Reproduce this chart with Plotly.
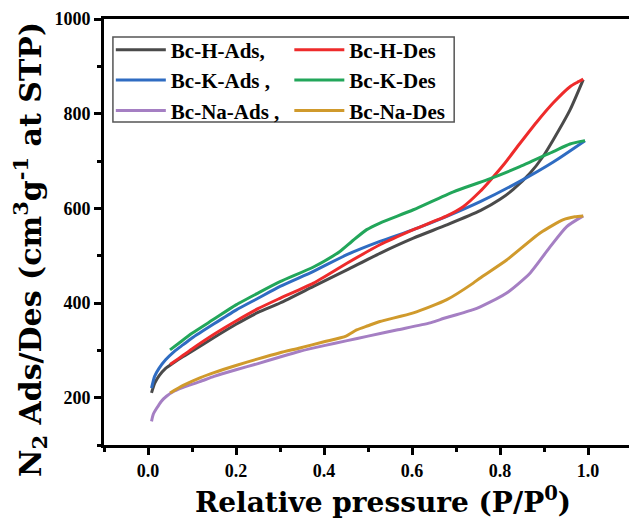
import plotly.graph_objects as go

# ---- data ----
h_ads_x = [0.008,0.015,0.025,0.04,0.06,0.08,0.1,0.15,0.2,0.25,0.3,0.376,0.452,0.527,0.603,0.679,0.755,0.8,0.83,0.868,0.898,0.921,0.959,0.989]
h_ads_y = [210,230,246,262,275,287,298,327,355,380,400,435,470,505,537,565,595,619,640,674,710,745,808,872]

h_des_x = [0.989,0.975,0.959,0.921,0.883,0.845,0.808,0.77,0.755,0.717,0.679,0.603,0.527,0.452,0.376,0.3,0.25,0.2,0.15,0.1,0.07,0.05]
h_des_y = [873,866,857,823,782,737,692,651,636,604,584,555,523,484,442,410,388,362,334,303,283,270]

k_ads_x = [0.008,0.015,0.025,0.04,0.06,0.08,0.1,0.15,0.2,0.25,0.3,0.376,0.452,0.527,0.603,0.679,0.755,0.845,0.921,0.993]
k_ads_y = [220,245,262,280,298,312,326,356,385,410,435,467,502,530,555,583,614,657,698,743]

k_des_x = [0.993,0.959,0.921,0.845,0.77,0.694,0.603,0.527,0.497,0.463,0.436,0.376,0.3,0.25,0.2,0.15,0.1,0.07,0.05]
k_des_y = [743,736,720,688,660,635,597,569,555,530,509,476,445,421,396,366,336,315,301]

na_ads_x = [0.008,0.012,0.02,0.03,0.042,0.06,0.08,0.118,0.15,0.2,0.25,0.3,0.345,0.4,0.45,0.5,0.565,0.641,0.664,0.739,0.755,0.815,0.868,0.914,0.951,0.989]
na_ads_y = [150,165,178,192,203,214,222,234,245,259,272,286,298,310,320,330,343,358,365,386,392,421,463,519,561,584]

na_des_x = [0.989,0.97,0.944,0.891,0.815,0.755,0.739,0.679,0.603,0.527,0.5,0.474,0.45,0.4,0.345,0.3,0.25,0.2,0.15,0.118,0.08,0.05]
na_des_y = [584,582,576,548,491,453,442,407,379,361,352,343,330,318,305,295,282,268,253,242,226,210]

series = [
    ("Bc-H-Ads,", h_ads_x, h_ads_y, "#4a4a4a", "legend"),
    ("Bc-K-Ads ,", k_ads_x, k_ads_y, "#2f6cc2", "legend"),
    ("Bc-Na-Ads ,", na_ads_x, na_ads_y, "#a57fc3", "legend"),
    ("Bc-H-Des", h_des_x, h_des_y, "#ee2b2b", "legend2"),
    ("Bc-K-Des", k_des_x, k_des_y, "#22a65a", "legend2"),
    ("Bc-Na-Des", na_des_x, na_des_y, "#d09a2c", "legend2"),
]

x_title = "Relative pressure (P/P<sup>0</sup>)"
y_title = "N<sub>2</sub> Ads/Des (cm<sup>3</sup>g<sup>-1</sup> at STP)"

FONT = "Liberation Serif, 'Times New Roman', Times, 'DejaVu Serif', serif"
TFONT = "DejaVu Serif"

fig = go.Figure()
for name, xs, ys, col, lg in series:
    fig.add_trace(go.Scatter(x=xs, y=ys, mode="lines", name=name,
                             line=dict(color=col, width=3, shape="spline", smoothing=0.6),
                             legend=lg))

legend_common = dict(
    font=dict(family=FONT, size=21, color="black", weight="bold"),
    bgcolor="rgba(0,0,0,0)", borderwidth=0, itemwidth=50,
    orientation="v", xanchor="left", yanchor="top", tracegroupgap=0,
)

fig.update_layout(
    width=629, height=526,
    margin=dict(l=104, r=0, t=19, b=81),
    paper_bgcolor="white", plot_bgcolor="white",
    font=dict(family=FONT, color="black"),
    showlegend=True,
    legend=dict(x=0.013, y=0.975, **legend_common),
    legend2=dict(x=0.353, y=0.975, **legend_common),
    xaxis=dict(
        range=[-0.1, 1.093], tickmode="linear", tick0=0, dtick=0.2,
        tickformat=".1f",
        ticks="outside", ticklen=7, tickwidth=3, tickcolor="black",
        minor=dict(dtick=0.1, tick0=0, ticks="outside", ticklen=4, tickwidth=3, tickcolor="black"),
        showline=True, linewidth=3, linecolor="black", mirror=True,
        showgrid=False, zeroline=False,
        tickfont=dict(family=FONT, size=18, color="black", weight="bold"),
    ),
    yaxis=dict(
        range=[100, 1000], tickmode="linear", tick0=0, dtick=200,
        ticks="outside", ticklen=7, tickwidth=3, tickcolor="black",
        minor=dict(dtick=100, tick0=0, ticks="outside", ticklen=4, tickwidth=3, tickcolor="black"),
        showline=True, linewidth=3, linecolor="black", mirror=False,
        showgrid=False, zeroline=False,
        tickfont=dict(family=FONT, size=18, color="black", weight="bold"),
    ),
    annotations=[
        dict(text=x_title, xref="paper", yref="paper", x=0.531, y=-0.13,
             xanchor="center", yanchor="middle", showarrow=False,
             font=dict(family=TFONT, size=28, color="black", weight="bold")),
        dict(text=y_title, xref="paper", yref="paper", x=-0.141, y=0.46,
             xanchor="center", yanchor="middle", showarrow=False, textangle=-90,
             font=dict(family=TFONT, size=30, color="black", weight="bold")),
    ],
    shapes=[dict(type="rect", xref="paper", yref="paper",
                 x0=0.017, x1=0.667, y0=0.758, y1=0.958,
                 line=dict(color="#555555", width=1.5), fillcolor="rgba(0,0,0,0)")],
)

fig.write_html("out.html")
